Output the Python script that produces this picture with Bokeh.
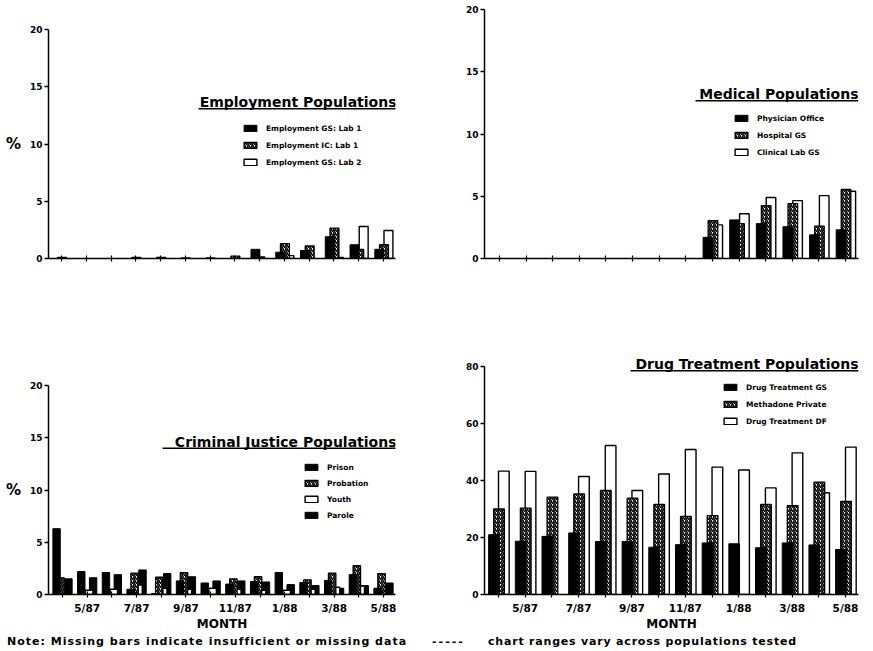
import math
from bokeh.plotting import figure
from bokeh.models import Range1d, FixedTicker, Legend, LegendItem, Label, BoxAnnotation, ColumnDataSource, Div
from bokeh.transform import dodge
from bokeh.layouts import row, column
from bokeh.embed import file_html
from bokeh.resources import INLINE

NaN = float("nan")

# ---------------- data ----------------
months = ["4/87", "5/87", "6/87", "7/87", "8/87", "9/87", "10/87",
          "11/87", "12/87", "1/88", "2/88", "3/88", "4/88", "5/88"]

emp_title = "Employment Populations"
emp_names = ["Employment GS: Lab 1", "Employment IC: Lab 1", "Employment GS: Lab 2"]
emp_gs_lab1 = [NaN, NaN, NaN, NaN, NaN, NaN, NaN, NaN, 0.8, 0.55, 0.7, 1.9, 1.2, 0.8]
emp_ic_lab1 = [0.1, NaN, NaN, 0.1, 0.1, 0.05, 0.05, 0.2, 0.15, 1.3, 1.1, 2.65, 0.8, 1.2]
emp_gs_lab2 = [NaN, NaN, NaN, NaN, NaN, NaN, NaN, NaN, NaN, 0.25, NaN, 0.1, 2.8, 2.45]

med_title = "Medical Populations"
med_names = ["Physician Office", "Hospital GS", "Clinical Lab GS"]
med_physician = [NaN] * 8 + [1.7, 3.1, 2.8, 2.55, 1.9, 2.3]
med_hospital = [NaN] * 8 + [3.05, 2.8, 4.25, 4.4, 2.6, 5.55]
med_clinical = [NaN] * 8 + [2.7, 3.6, 4.9, 4.65, 5.05, 5.4]

cj_title = "Criminal Justice Populations"
cj_names = ["Prison", "Probation", "Youth", "Parole"]
cj_prison = [6.3, 2.2, 2.1, 0.5, 0.1, 1.3, 1.1, 1.0, 1.25, 2.1, 1.15, 1.35, 1.9, 0.6]
cj_probation = [1.6, NaN, NaN, 2.05, 1.65, 2.1, NaN, 1.5, 1.7, NaN, 1.4, 2.05, 2.75, 2.0]
cj_youth = [NaN, 0.4, 0.5, 0.9, 0.6, 0.5, 0.6, 0.5, 0.4, 0.4, 0.5, 0.7, 0.8, NaN]
cj_parole = [1.5, 1.6, 1.9, 2.35, 2.0, 1.7, 1.3, 1.3, 1.2, 0.95, 0.85, 0.6, 0.85, 1.1]

dt_title = "Drug Treatment Populations"
dt_names = ["Drug Treatment GS", "Methadone Private", "Drug Treatment DF"]
dt_gs = [21.0, 18.7, 20.4, 21.6, 18.6, 18.6, 16.6, 17.5, 18.1, 17.8, 16.4, 18.1, 17.4, 15.8]
dt_methadone = [30.0, 30.3, 34.2, 35.3, 36.5, 33.8, 31.6, 27.4, 27.7, NaN, 31.6, 31.2, 39.4, 32.7]
dt_df = [43.3, 43.2, NaN, 41.4, 52.3, 36.5, 42.3, 50.9, 44.7, 43.7, 37.4, 49.7, 35.7, 51.7]

note_text = "Note: Missing bars indicate insufficient or missing data"
dash_text = "-----"
range_text = "chart ranges vary across populations tested"
x_title = "MONTH"
y_title = "%"

FONT = "DejaVu Sans"
BLACK = dict(fill_color="black", line_color="black", line_width=1)
HATCH = dict(fill_color="white", hatch_pattern="/", hatch_color="black", hatch_scale=4,
             hatch_weight=1.6, line_color="black", line_width=1.3)
WHITE = dict(fill_color="white", line_color="black", line_width=1.4)


def panel(g, y_max, y_step, show_x_labels, percent):
    ppx = (g["tl"] - g["t0"]) / 13.0
    x0 = -(g["t0"] - g["fl"]) / ppx
    x1 = 13 + (g["fr"] - g["tl"]) / ppx
    ppy = (g["fb"] - g["ymax_px"]) / y_max
    y1 = (g["fb"] - g["ft"]) / ppy
    p = figure(width=g["cr"] - g["cl"], height=g["cb"] - g["ct"],
               x_range=Range1d(x0, x1), y_range=Range1d(0, y1),
               output_backend="svg", toolbar_location=None,
               min_border_left=g["fl"] - g["cl"], min_border_right=g["cr"] - g["fr"],
               min_border_top=g["ft"] - g["ct"], min_border_bottom=g["cb"] - g["fb"])
    p.outline_line_color = None
    p.grid.visible = False
    p.background_fill_color = "white"
    p.border_fill_color = "white"

    ya = p.yaxis[0]
    ya.ticker = FixedTicker(ticks=list(range(0, y_max + 1, y_step)))
    ya.bounds = (0, y_max)
    ya.axis_line_width = 1.5
    ya.major_tick_line_width = 1.5
    ya.major_tick_out = 4
    ya.major_tick_in = 0
    ya.minor_tick_line_color = None
    ya.major_label_standoff = 2
    ya.major_label_text_font = FONT
    ya.major_label_text_font_style = "bold"
    ya.major_label_text_font_size = "9px"
    ya.major_label_text_color = "black"
    if percent:
        ya.axis_label = y_title
        ya.axis_label_orientation = "horizontal"
        ya.axis_label_text_font = FONT
        ya.axis_label_text_font_style = "bold"
        ya.axis_label_text_font_size = "15px"
        ya.axis_label_text_color = "black"
        ya.axis_label_standoff = 6

    xa = p.xaxis[0]
    xa.ticker = FixedTicker(ticks=list(range(len(months))))
    xa.axis_line_width = 1.5
    xa.major_tick_line_width = 1.2
    xa.major_tick_out = 3
    xa.major_tick_in = 3
    xa.minor_tick_line_color = None
    xa.major_label_text_font = FONT
    xa.major_label_text_font_style = "bold"
    xa.major_label_text_font_size = "10.5px"
    xa.major_label_text_color = "black"
    xa.major_label_standoff = 4
    if show_x_labels:
        xa.major_label_overrides = {i: (m if i % 2 == 1 else "") for i, m in enumerate(months)}
        xa.axis_label = x_title
        xa.axis_label_text_font = FONT
        xa.axis_label_text_font_style = "bold"
        xa.axis_label_text_font_size = "12px"
        xa.axis_label_text_color = "black"
        xa.axis_label_standoff = 0
    else:
        xa.major_label_text_color = None

    fx = lambda px: x0 + (px - g["fl"]) / ppx
    fy = lambda py: (g["fb"] - py) / ppy
    return p, fx, fy


def add_title(p, fx, fy, text, left_px, right_px, mid_px, line_px):
    p.add_layout(Label(x=fx(right_px), y=fy(mid_px), text=text, text_align="right",
                       text_baseline="middle", text_font=FONT, text_font_style="bold",
                       text_font_size="14px", text_color="black"))
    p.add_layout(BoxAnnotation(left=fx(left_px), right=fx(right_px), top=fy(line_px),
                               bottom=fy(line_px + 1.6), fill_color="black", fill_alpha=1,
                               line_color=None))


def add_legend(p, items, loc, spacing):
    p.add_layout(Legend(items=[LegendItem(label=n, renderers=[r]) for n, r in items],
                        location=loc, orientation="vertical", border_line_color=None,
                        background_fill_alpha=0, padding=0, margin=0, spacing=spacing,
                        glyph_width=16, glyph_height=8, label_height=10, label_standoff=8,
                        label_text_font=FONT, label_text_font_style="bold",
                        label_text_font_size="7.5px", label_text_color="black"))


def three_bars(p, names, s1, s2, s3, w):
    src = ColumnDataSource(dict(x=list(range(len(months))), a=s1, b=s2, c=s3))
    rc = p.vbar(x=dodge("x", 0.2, range=p.x_range), top="c", width=w, source=src, **WHITE)
    rb = p.vbar(x=dodge("x", 0.02, range=p.x_range), top="b", width=w, source=src, **HATCH)
    ra = p.vbar(x=dodge("x", -0.17, range=p.x_range), top="a", width=w, source=src, **BLACK)
    return [(names[0], ra), (names[1], rb), (names[2], rc)]


R1_TOP, R1_BOT, R2_TOP, R2_BOT = 0, 336, 336, 633

# ---------------- top-left: employment ----------------
g_tl = dict(cl=0, cr=440, ct=R1_TOP, cb=R1_BOT, fl=48, fr=395, ft=29, fb=258, t0=61, tl=383, ymax_px=29)
p_tl, fx, fy = panel(g_tl, 20, 5, False, True)
items = three_bars(p_tl, emp_names, emp_gs_lab1, emp_ic_lab1, emp_gs_lab2, 0.36)
add_title(p_tl, fx, fy, emp_title, 198, 396, 101, 107.5)
add_legend(p_tl, items, (194, 91), 7)

# ---------------- top-right: medical ----------------
g_tr = dict(cl=440, cr=872, ct=R1_TOP, cb=R1_BOT, fl=484, fr=858, ft=5, fb=258, t0=499, tl=845, ymax_px=9)
p_tr, fx, fy = panel(g_tr, 20, 5, False, False)
items = three_bars(p_tr, med_names, med_physician, med_hospital, med_clinical, 0.36)
add_title(p_tr, fx, fy, med_title, 695, 858, 93.5, 99.5)
add_legend(p_tr, items, (249, 101), 7)

# ---------------- bottom-left: criminal justice ----------------
g_bl = dict(cl=0, cr=440, ct=R2_TOP, cb=R2_BOT, fl=48, fr=395, ft=385, fb=594, t0=62, tl=383, ymax_px=385)
p_bl, fx, fy = panel(g_bl, 20, 5, True, True)
src = ColumnDataSource(dict(x=list(range(len(months))), pr=cj_prison, pb=cj_probation,
                            yo=cj_youth, pa=cj_parole))
r_pa = p_bl.vbar(x=dodge("x", 0.24, range=p_bl.x_range), top="pa", width=0.3, source=src, **BLACK)
r_yo = p_bl.vbar(x=dodge("x", 0.08, range=p_bl.x_range), top="yo", width=0.3, source=src, **WHITE)
r_pb = p_bl.vbar(x=dodge("x", -0.08, range=p_bl.x_range), top="pb", width=0.3, source=src, **HATCH)
r_pr = p_bl.vbar(x=dodge("x", -0.24, range=p_bl.x_range), top="pr", width=0.3, source=src, **BLACK)
add_title(p_bl, fx, fy, cj_title, 162, 396, 441, 447)
add_legend(p_bl, [(cj_names[0], r_pr), (cj_names[1], r_pb), (cj_names[2], r_yo), (cj_names[3], r_pa)],
           (255, 74), 6)

# ---------------- bottom-right: drug treatment ----------------
g_br = dict(cl=440, cr=872, ct=R2_TOP, cb=R2_BOT, fl=484, fr=858, ft=346, fb=594, t0=498, tl=845, ymax_px=366)
p_br, fx, fy = panel(g_br, 80, 20, True, False)
items = three_bars(p_br, dt_names, dt_gs, dt_methadone, dt_df, 0.4)
add_title(p_br, fx, fy, dt_title, 630, 858, 363, 369.5)
add_legend(p_br, items, (238, 168), 7)

# ---------------- footer note ----------------
footer_html = (
    '<div style="position:relative;width:872px;height:17px;font-family:\'DejaVu Sans\';'
    'font-weight:bold;font-size:11px;line-height:13px;color:black;">'
    f'<span style="position:absolute;left:7px;top:2px;white-space:nowrap;letter-spacing:1px;">{note_text}</span>'
    f'<span style="position:absolute;left:432px;top:2px;white-space:nowrap;letter-spacing:2px;">{dash_text}</span>'
    f'<span style="position:absolute;left:488px;top:2px;white-space:nowrap;letter-spacing:0.8px;">{range_text}</span>'
    '</div>'
)
footer = Div(text=footer_html, width=872, height=17, margin=(0, 0, 0, 0))

layout = column(row(column(p_tl), column(p_tr)), row(column(p_bl), column(p_br)), footer)
open("out.html", "w").write(file_html(layout, INLINE))
